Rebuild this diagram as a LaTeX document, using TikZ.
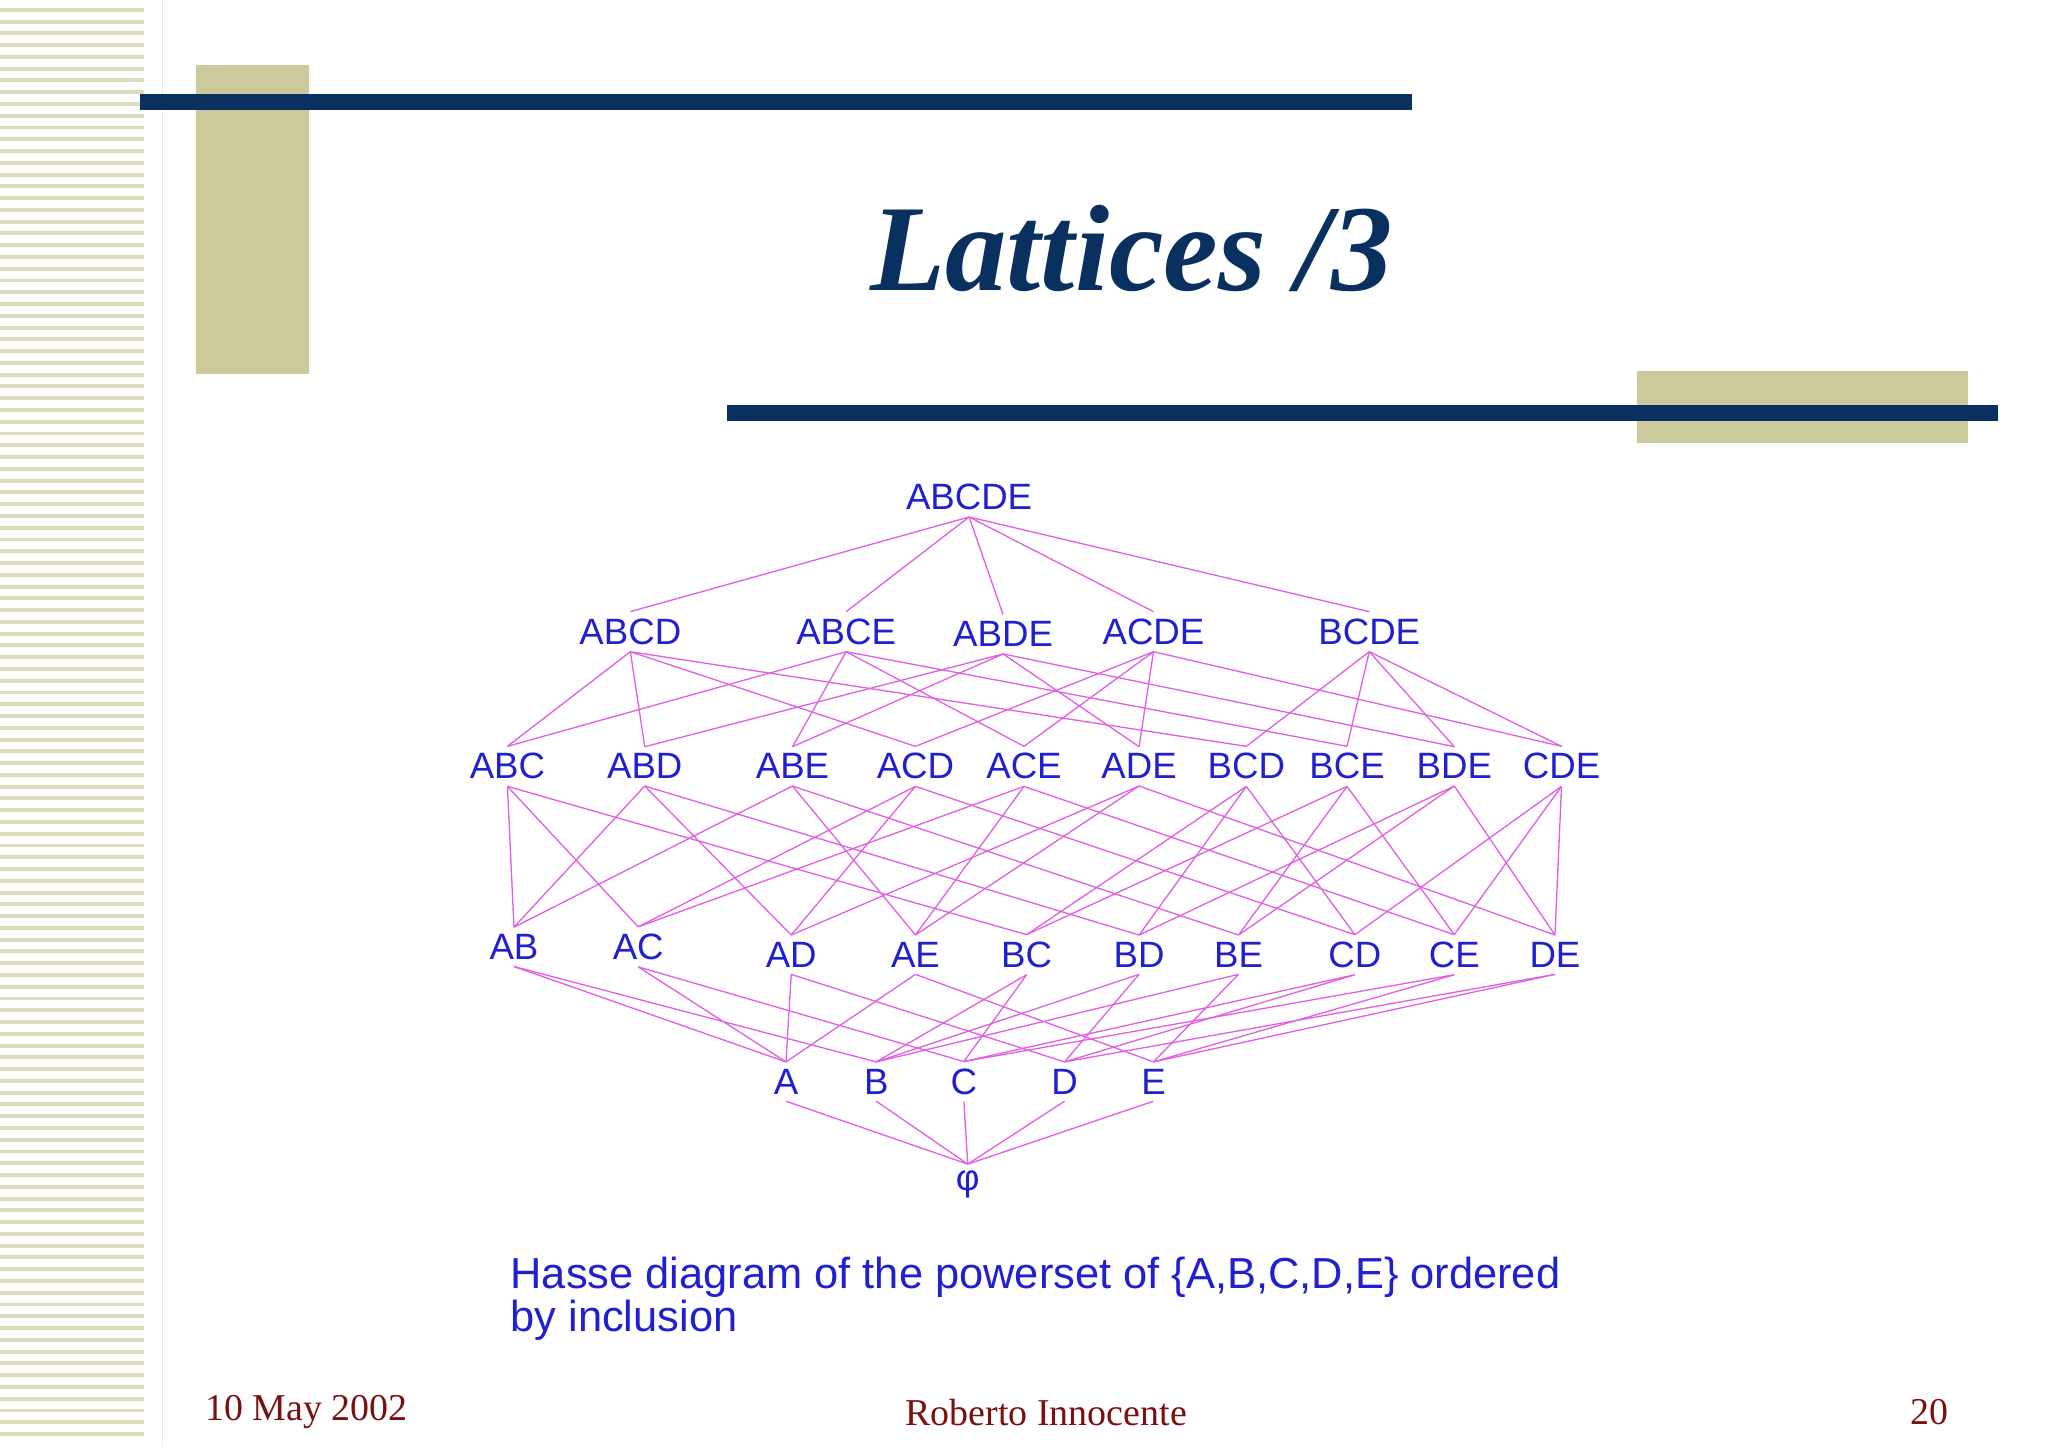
\documentclass[tikz,border=0pt]{standalone}
\usepackage{fontspec}
\setmainfont{Liberation Serif}
\newfontfamily\arialf{Liberation Sans}
\begin{document}
\begin{tikzpicture}[x=0.5pt,y=-0.5pt,
  lab/.style={text=labblue,font=\arialf\fontsize{14}{14}\selectfont,inner sep=2.5pt},
  edge/.style={draw=edgemag,line width=0.5pt}]
\definecolor{navy}{HTML}{0A3060}
\definecolor{khaki}{HTML}{CCCA9A}
\definecolor{stripe}{HTML}{DEDCBE}
\definecolor{labblue}{HTML}{2020D0}
\definecolor{edgemag}{HTML}{E060E0}
\definecolor{footred}{HTML}{7A1010}
\useasboundingbox (0,0) rectangle (1566,1106.5);
\fill[white] (0,0) rectangle (1566,1106.5);
% left stripes
\foreach \i in {0,...,121} \fill[stripe] (0,{6+\i*9}) rectangle (110,{9+\i*9});
\draw[stripe!60,line width=0.5pt] (124,0) -- (124,1106);
% decorations
\fill[khaki] (150,50) rectangle (236,286);
\fill[navy] (107,72) rectangle (1080,84);
\fill[khaki] (1252,284) rectangle (1505,339);
\fill[navy] (556,310) rectangle (1528,322);
\node[text=navy,font=\fontsize{47}{47}\selectfont\bfseries\itshape] (title) at (865,190) {Lattices /3};
% nodes
\node[lab] (ABCDE) at (741,380) {ABCDE};
\node[lab] (ABCD) at (482,483) {ABCD};
\node[lab] (ABCE) at (647,483) {ABCE};
\node[lab] (ABDE) at (767,485) {ABDE};
\node[lab] (ACDE) at (882,483) {ACDE};
\node[lab] (BCDE) at (1047,483) {BCDE};
\node[lab] (ABC) at (388,586) {ABC};
\node[lab] (ABD) at (493,586) {ABD};
\node[lab] (ABE) at (606,586) {ABE};
\node[lab] (ACD) at (700,586) {ACD};
\node[lab] (ACE) at (783,586) {ACE};
\node[lab] (ADE) at (871,586) {ADE};
\node[lab] (BCD) at (953,586) {BCD};
\node[lab] (BCE) at (1030,586) {BCE};
\node[lab] (BDE) at (1112,586) {BDE};
\node[lab] (CDE) at (1194,586) {CDE};
\node[lab] (AB) at (393,724) {AB};
\node[lab] (AC) at (488,724) {AC};
\node[lab] (AD) at (605,730) {AD};
\node[lab] (AE) at (700,730) {AE};
\node[lab] (BC) at (785,730) {BC};
\node[lab] (BD) at (871,730) {BD};
\node[lab] (BE) at (947,730) {BE};
\node[lab] (CD) at (1036,730) {CD};
\node[lab] (CE) at (1112,730) {CE};
\node[lab] (DE) at (1189,730) {DE};
\node[lab] (A) at (601,827) {A};
\node[lab] (B) at (670,827) {B};
\node[lab] (C) at (737,827) {C};
\node[lab] (D) at (814,827) {D};
\node[lab] (E) at (882,827) {E};
\node[lab] (O) at (740,906) {φ};
\foreach \p/\c in {ABCDE/ABCD,ABCDE/ABCE,ABCDE/ABDE,ABCDE/ACDE,ABCDE/BCDE,
 ABCD/ABC,ABCD/ABD,ABCD/ACD,ABCD/BCD,ABCE/ABC,ABCE/ABE,ABCE/ACE,ABCE/BCE,
 ABDE/ABD,ABDE/ABE,ABDE/ADE,ABDE/BDE,ACDE/ACD,ACDE/ACE,ACDE/ADE,ACDE/CDE,
 BCDE/BCD,BCDE/BCE,BCDE/BDE,BCDE/CDE,
 ABC/AB,ABC/AC,ABC/BC,ABD/AB,ABD/AD,ABD/BD,ABE/AB,ABE/AE,ABE/BE,
 ACD/AC,ACD/AD,ACD/CD,ACE/AC,ACE/AE,ACE/CE,ADE/AD,ADE/AE,ADE/DE,
 BCD/BC,BCD/BD,BCD/CD,BCE/BC,BCE/BE,BCE/CE,BDE/BD,BDE/BE,BDE/DE,
 CDE/CD,CDE/CE,CDE/DE,
 AB/A,AB/B,AC/A,AC/C,AD/A,AD/D,AE/A,AE/E,BC/B,BC/C,BD/B,BD/D,BE/B,BE/E,
 CD/C,CD/D,CE/C,CE/E,DE/D,DE/E,A/O,B/O,C/O,D/O,E/O}
 \draw[edge] (\p.south) -- (\c.north);
% caption
\node[lab,anchor=west,align=left,font=\arialf\fontsize{16.6}{15}\selectfont] (cap) at (385,993)
 {Hasse diagram of the powerset of \{A,B,C,D,E\} ordered\\by inclusion};
% footer
\node[text=footred,font=\fontsize{14.5}{14}\selectfont,anchor=west] (date) at (150,1080) {10 May 2002};
\node[text=footred,font=\fontsize{14.5}{14}\selectfont] (auth) at (800,1080) {Roberto Innocente};
\node[text=footred,font=\fontsize{14.5}{14}\selectfont] (pg) at (1475,1080) {20};
\end{tikzpicture}
\end{document}
